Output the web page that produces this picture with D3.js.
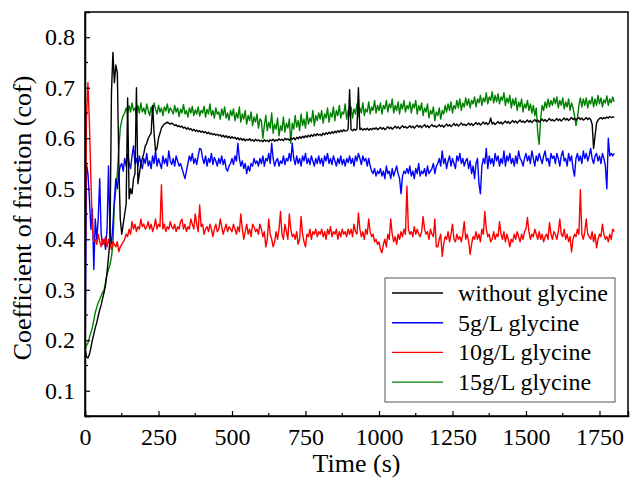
<!DOCTYPE html>
<html>
<head>
<meta charset="utf-8">
<script src="https://cdn.jsdelivr.net/npm/d3@7"></script>
<style>
  html, body { margin: 0; padding: 0; background: #fff; }
  svg text { font-family: "Liberation Serif", "Times New Roman", serif; fill: #000; }
</style>
</head>
<body>
<div id="chart"></div>
<script>
// sample times (s)
const times = [
  0,5,10,15,20,25,30,35,40,45,50,55,60,65,70,75,80,85,90,95,
  100,105,110,115,120,125,130,135,140,145,150,155,160,165,170,175,180,185,190,195,
  200,205,210,215,220,225,230,235,240,245,250,255,260,265,270,275,280,285,290,295,
  300,305,310,315,320,325,330,335,340,345,350,355,360,365,370,375,380,385,390,395,
  400,405,410,415,420,425,430,435,440,445,450,455,460,465,470,475,480,485,490,495,
  500,505,510,515,520,525,530,535,540,545,550,555,560,565,570,575,580,585,590,595,
  600,605,610,615,620,625,630,635,640,645,650,655,660,665,670,675,680,685,690,695,
  700,705,710,715,720,725,730,735,740,745,750,755,760,765,770,775,780,785,790,795,
  800,805,810,815,820,825,830,835,840,845,850,855,860,865,870,875,880,885,890,895,
  900,905,910,915,920,925,930,935,940,945,950,955,960,965,970,975,980,985,990,995,
  1000,1005,1010,1015,1020,1025,1030,1035,1040,1045,1050,1055,1060,1065,1070,1075,1080,1085,1090,1095,
  1100,1105,1110,1115,1120,1125,1130,1135,1140,1145,1150,1155,1160,1165,1170,1175,1180,1185,1190,1195,
  1200,1205,1210,1215,1220,1225,1230,1235,1240,1245,1250,1255,1260,1265,1270,1275,1280,1285,1290,1295,
  1300,1305,1310,1315,1320,1325,1330,1335,1340,1345,1350,1355,1360,1365,1370,1375,1380,1385,1390,1395,
  1400,1405,1410,1415,1420,1425,1430,1435,1440,1445,1450,1455,1460,1465,1470,1475,1480,1485,1490,1495,
  1500,1505,1510,1515,1520,1525,1530,1535,1540,1545,1550,1555,1560,1565,1570,1575,1580,1585,1590,1595,
  1600,1605,1610,1615,1620,1625,1630,1635,1640,1645,1650,1655,1660,1665,1670,1675,1680,1685,1690,1695,
  1700,1705,1710,1715,1720,1725,1730,1735,1740,1745,1750,1755,1760,1765,1770,1775,1780,1785,1790,1795,
  1800
];

// without glycine
const cofNone = [
  .185,.168,.165,.172,.185,.20,.212,.225,.235,.248,.26,.27,.283,.295,.31,.335,.365,.40,.69,.77,
  .71,.745,.73,.55,.44,.41,.43,.45,.47,.68,.48,.50,.49,.52,.53,.70,.51,.53,.55,.56,
  .57,.585,.59,.60,.605,.61,.665,.61,.575,.58,.60,.61,.62,.625,.628,.63,.632,.63,.628,.63,
  .628,.625,.627,.623,.625,.622,.624,.62,.622,.618,.621,.617,.619,.615,.618,.614,.616,.613,.615,.612,
  .614,.611,.613,.609,.612,.608,.61,.607,.609,.606,.608,.605,.607,.603,.606,.602,.605,.601,.604,.60,
  .603,.60,.602,.598,.601,.597,.60,.596,.599,.595,.598,.596,.599,.595,.597,.594,.598,.595,.597,.594,
  .596,.593,.597,.594,.596,.593,.597,.595,.598,.594,.597,.595,.599,.596,.598,.595,.60,.597,.599,.596,
  .60,.598,.601,.597,.602,.599,.603,.60,.604,.601,.605,.602,.606,.603,.607,.604,.608,.605,.609,.606,
  .608,.605,.61,.607,.611,.608,.612,.609,.613,.61,.614,.611,.615,.612,.616,.613,.617,.614,.615,.618,
  .696,.617,.615,.618,.616,.619,.70,.617,.62,.616,.619,.617,.62,.616,.619,.617,.62,.618,.621,.617,
  .619,.622,.618,.621,.617,.62,.623,.619,.622,.618,.621,.624,.62,.623,.619,.622,.625,.621,.623,.62,
  .622,.625,.621,.624,.62,.623,.626,.622,.625,.621,.624,.627,.622,.625,.621,.624,.627,.623,.625,.622,
  .624,.627,.623,.626,.622,.625,.628,.624,.627,.623,.626,.629,.625,.628,.624,.627,.63,.626,.628,.625,
  .627,.63,.626,.629,.625,.628,.631,.627,.63,.626,.629,.632,.628,.631,.627,.63,.64,.628,.631,.627,
  .63,.633,.629,.632,.628,.631,.634,.63,.633,.629,.632,.635,.631,.634,.63,.633,.636,.632,.634,.631,
  .633,.636,.632,.635,.631,.634,.637,.633,.636,.632,.635,.638,.634,.637,.633,.636,.639,.635,.637,.634,
  .636,.639,.635,.638,.634,.637,.64,.636,.639,.635,.638,.641,.637,.64,.636,.639,.641,.637,.64,.636,
  .638,.641,.637,.64,.637,.628,.58,.605,.63,.636,.639,.641,.638,.641,.639,.642,.64,.643,.641,.642,
  .642
];

// 5g/L glycine
const cof5 = [
  .12,.55,.53,.48,.42,.46,.34,.44,.40,.44,.52,.41,.39,.40,.38,.42,.545,.41,.39,.43,
  .48,.52,.50,.53,.545,.55,.535,.56,.545,.57,.55,.54,.565,.585,.55,.56,.545,.565,.55,.54,
  .56,.55,.57,.545,.555,.54,.565,.55,.575,.545,.56,.55,.54,.565,.55,.56,.545,.575,.555,.548,
  .56,.545,.565,.555,.545,.55,.54,.53,.52,.535,.55,.565,.555,.57,.55,.56,.548,.565,.58,.578,
  .56,.55,.565,.545,.56,.552,.57,.548,.562,.555,.545,.56,.55,.565,.548,.558,.54,.535,.545,.55,
  .56,.548,.565,.555,.59,.56,.545,.555,.54,.55,.53,.545,.535,.55,.545,.56,.55,.555,.545,.56,
  .55,.565,.545,.56,.555,.57,.55,.59,.56,.545,.555,.56,.545,.555,.55,.565,.548,.56,.555,.57,
  .555,.59,.56,.548,.565,.55,.56,.545,.565,.555,.57,.55,.56,.548,.565,.555,.545,.56,.55,.565,
  .55,.56,.545,.565,.555,.57,.55,.56,.548,.565,.555,.545,.56,.55,.565,.548,.558,.545,.56,.552,
  .565,.55,.56,.545,.565,.555,.57,.56,.548,.565,.555,.56,.545,.56,.545,.535,.53,.54,.525,.535,
  .53,.54,.525,.535,.52,.545,.53,.535,.52,.54,.525,.535,.545,.53,.52,.49,.525,.535,.53,.54,
  .53,.545,.525,.535,.52,.54,.53,.55,.525,.535,.53,.54,.525,.545,.53,.535,.54,.55,.53,.545,
  .55,.56,.545,.575,.55,.56,.54,.555,.565,.545,.56,.55,.54,.565,.555,.57,.55,.56,.545,.555,
  .56,.54,.555,.53,.545,.52,.55,.56,.51,.49,.545,.56,.55,.58,.54,.565,.55,.56,.545,.57,
  .555,.565,.545,.56,.55,.575,.545,.565,.555,.57,.55,.56,.545,.565,.55,.575,.56,.555,.545,.56,
  .57,.555,.565,.55,.575,.56,.545,.565,.555,.57,.56,.55,.565,.575,.555,.56,.545,.57,.56,.565,
  .55,.57,.56,.545,.565,.575,.555,.56,.545,.57,.555,.565,.54,.525,.56,.57,.555,.565,.55,.575,
  .56,.57,.555,.565,.58,.56,.55,.565,.57,.555,.565,.55,.57,.56,.545,.50,.60,.565,.57,.565,
  .57
];

// 10g/L glycine
const cof10 = [
  .28,.64,.71,.63,.52,.42,.395,.40,.39,.41,.395,.385,.40,.39,.405,.385,.40,.39,.38,.395,
  .39,.385,.395,.375,.385,.39,.395,.40,.41,.405,.42,.41,.435,.42,.43,.415,.425,.42,.44,.425,
  .43,.42,.425,.435,.42,.43,.415,.425,.44,.42,.43,.425,.508,.42,.43,.415,.425,.42,.435,.425,
  .42,.43,.415,.425,.42,.435,.44,.42,.43,.415,.425,.42,.44,.43,.42,.45,.43,.415,.468,.425,
  .43,.41,.42,.425,.415,.43,.42,.405,.42,.43,.415,.42,.44,.425,.41,.42,.43,.415,.425,.42,
  .415,.43,.42,.41,.425,.415,.45,.42,.40,.415,.43,.41,.42,.405,.43,.425,.415,.42,.41,.43,
  .42,.405,.415,.385,.40,.44,.41,.40,.385,.395,.415,.40,.42,.455,.41,.40,.43,.415,.40,.45,
  .42,.405,.41,.40,.415,.39,.40,.445,.41,.395,.385,.41,.405,.42,.40,.415,.41,.42,.405,.415,
  .41,.42,.405,.415,.40,.42,.41,.425,.405,.415,.41,.42,.40,.415,.405,.42,.41,.415,.405,.42,
  .41,.42,.405,.43,.415,.41,.452,.42,.405,.415,.40,.42,.41,.44,.415,.405,.41,.395,.40,.39,
  .395,.38,.373,.39,.40,.385,.41,.40,.44,.41,.395,.405,.39,.41,.40,.415,.405,.42,.41,.505,
  .42,.41,.415,.405,.425,.41,.42,.41,.405,.415,.445,.42,.41,.415,.40,.42,.41,.405,.44,.385,
  .385,.40,.41,.366,.39,.405,.40,.415,.395,.41,.43,.40,.395,.41,.40,.405,.395,.41,.435,.40,
  .41,.395,.37,.39,.405,.40,.415,.40,.41,.395,.42,.41,.455,.42,.405,.41,.395,.40,.415,.40,
  .41,.405,.435,.41,.40,.415,.395,.41,.40,.385,.40,.395,.41,.40,.415,.405,.395,.41,.40,.415,
  .42,.443,.415,.40,.41,.405,.42,.41,.40,.415,.40,.41,.395,.405,.41,.40,.433,.41,.40,.415,
  .41,.40,.415,.44,.41,.405,.42,.40,.41,.395,.405,.375,.40,.41,.405,.42,.41,.498,.41,.40,
  .415,.44,.41,.405,.40,.415,.395,.41,.383,.40,.41,.405,.43,.41,.40,.405,.395,.41,.40,.42,
  .415
];

// 15g/L glycine
const cof15 = [
  .18,.19,.195,.205,.215,.225,.24,.255,.265,.275,.28,.288,.295,.30,.315,.33,.34,.35,.365,.39,
  .47,.50,.53,.58,.62,.635,.645,.65,.66,.648,.665,.652,.67,.655,.66,.645,.665,.65,.67,.652,
  .66,.648,.668,.655,.645,.662,.65,.67,.657,.648,.665,.652,.66,.645,.662,.654,.668,.65,.66,.655,
  .648,.665,.652,.66,.643,.658,.65,.667,.648,.655,.642,.66,.65,.663,.645,.656,.648,.662,.644,.655,
  .65,.663,.642,.657,.648,.668,.645,.655,.64,.66,.648,.652,.638,.658,.645,.662,.64,.65,.636,.655,
  .645,.658,.635,.65,.64,.662,.632,.648,.638,.655,.628,.645,.635,.652,.625,.642,.632,.648,.62,.638,
  .635,.60,.625,.645,.615,.632,.62,.65,.61,.628,.618,.64,.605,.625,.615,.642,.612,.63,.62,.638,
  .59,.63,.618,.645,.622,.635,.615,.648,.625,.638,.62,.652,.628,.64,.632,.655,.625,.645,.635,.65,
  .638,.655,.63,.648,.64,.66,.632,.65,.642,.662,.635,.655,.645,.665,.64,.652,.648,.668,.638,.655,
  .645,.662,.64,.658,.648,.668,.642,.66,.65,.67,.645,.658,.652,.672,.648,.662,.655,.675,.65,.665,
  .655,.67,.648,.665,.658,.675,.652,.668,.66,.678,.65,.665,.655,.672,.648,.668,.658,.675,.652,.665,
  .658,.672,.65,.668,.66,.675,.648,.665,.655,.67,.645,.66,.652,.668,.64,.655,.648,.662,.635,.652,
  .645,.66,.638,.655,.648,.665,.652,.668,.655,.672,.65,.665,.658,.675,.66,.678,.655,.67,.662,.68,
  .665,.678,.66,.675,.668,.682,.662,.678,.67,.685,.665,.68,.672,.69,.668,.682,.675,.692,.67,.685,
  .672,.688,.668,.682,.675,.69,.665,.68,.67,.685,.66,.678,.665,.68,.655,.672,.662,.678,.652,.668,
  .66,.675,.655,.668,.65,.665,.645,.66,.61,.588,.64,.665,.655,.672,.66,.678,.662,.675,.665,.68,
  .668,.682,.66,.675,.665,.68,.658,.672,.662,.678,.655,.67,.66,.645,.625,.64,.665,.68,.662,.678,
  .665,.68,.66,.675,.668,.682,.662,.678,.665,.685,.668,.68,.662,.676,.67,.684,.665,.678,.67,.682,
  .672
];

const seriesNames = ['without glycine', '5g/L glycine', '10g/L glycine', '15g/L glycine'];
const seriesColors = ['#000000', '#0000ff', '#ff0000', '#008000'];
const seriesValues = [cofNone, cof5, cof10, cof15];

const xTicks = [0, 250, 500, 750, 1000, 1250, 1500, 1750];
const xMinor = [125, 375, 625, 875, 1125, 1375, 1625];
const yTicks = [0.1, 0.2, 0.3, 0.4, 0.5, 0.6, 0.7, 0.8];
const yMinor = [0.15, 0.25, 0.35, 0.45, 0.55, 0.65, 0.75];

const width = 630, height = 479;
const plotL = 85, plotR = 628, plotT = 12, plotB = 416;

const svg = d3.select('#chart').append('svg')
  .attr('width', width)
  .attr('height', height);

const x = d3.scaleLinear().domain([0, 1847]).range([plotL, plotR]);
const y = d3.scaleLinear().domain([0.05, 0.85]).range([plotB, plotT]);

svg.append('clipPath').attr('id', 'plotclip')
  .append('rect')
  .attr('x', plotL).attr('y', plotT)
  .attr('width', plotR - plotL).attr('height', plotB - plotT);

// lines, drawn so black ends on top
const line = d3.line()
  .x((d, i) => x(times[i]))
  .y(d => y(d));

const drawOrder = [3, 1, 2, 0];
drawOrder.forEach(k => {
  svg.append('path')
    .datum(seriesValues[k])
    .attr('clip-path', 'url(#plotclip)')
    .attr('fill', 'none')
    .attr('stroke', seriesColors[k])
    .attr('stroke-width', 1.4)
    .attr('stroke-linejoin', 'round')
    .attr('d', line);
});

// frame
svg.append('rect')
  .attr('x', plotL).attr('y', plotT)
  .attr('width', plotR - plotL).attr('height', plotB - plotT)
  .attr('fill', 'none')
  .attr('stroke', '#000')
  .attr('stroke-width', 1.5);

// axes with inward ticks
const xAxis = svg.append('g')
  .attr('transform', `translate(0,${plotB})`)
  .call(d3.axisBottom(x).tickValues(xTicks).tickSize(-5).tickPadding(12).tickFormat(d3.format('d')));
xAxis.append('g').selectAll('line').data(xMinor).join('line')
  .attr('x1', d => x(d)).attr('x2', d => x(d))
  .attr('y1', 0).attr('y2', -3)
  .attr('stroke', '#000').attr('stroke-width', 1.2);

const yAxis = svg.append('g')
  .attr('transform', `translate(${plotL},0)`)
  .call(d3.axisLeft(y).tickValues(yTicks).tickSize(-5).tickPadding(10).tickFormat(d3.format('.1f')));
yAxis.append('g').selectAll('line').data(yMinor).join('line')
  .attr('y1', d => y(d)).attr('y2', d => y(d))
  .attr('x1', 0).attr('x2', 3)
  .attr('stroke', '#000').attr('stroke-width', 1.2);

[xAxis, yAxis].forEach(a => {
  a.select('.domain').attr('stroke', '#000').attr('stroke-width', 1.5);
  a.selectAll('.tick line').attr('stroke', '#000').attr('stroke-width', 1.2);
  a.selectAll('.tick text')
    .attr('fill', '#000')
    .style('font-family', '"Liberation Serif", serif')
    .style('font-size', '24px');
});

// axis titles
svg.append('text')
  .attr('x', (plotL + plotR) / 2)
  .attr('y', 472)
  .attr('text-anchor', 'middle')
  .style('font-size', '26px')
  .text('Time (s)');

svg.append('text')
  .attr('transform', `translate(31,${(plotT + plotB) / 2 + 4}) rotate(-90)`)
  .attr('text-anchor', 'middle')
  .style('font-size', '26px')
  .text('Coefficient of friction (cof)');

// legend
const legend = svg.append('g');
legend.append('rect')
  .attr('x', 385).attr('y', 278)
  .attr('width', 230).attr('height', 124)
  .attr('fill', '#fff')
  .attr('stroke', '#555')
  .attr('stroke-width', 1);

seriesNames.forEach((name, i) => {
  const ly = 293 + i * 29.7;
  legend.append('line')
    .attr('x1', 392).attr('x2', 443)
    .attr('y1', ly).attr('y2', ly)
    .attr('stroke', seriesColors[i])
    .attr('stroke-width', 1.4);
  legend.append('text')
    .attr('x', 458)
    .attr('y', ly + 8)
    .style('font-size', '24px')
    .text(name);
});
</script>
</body>
</html>
